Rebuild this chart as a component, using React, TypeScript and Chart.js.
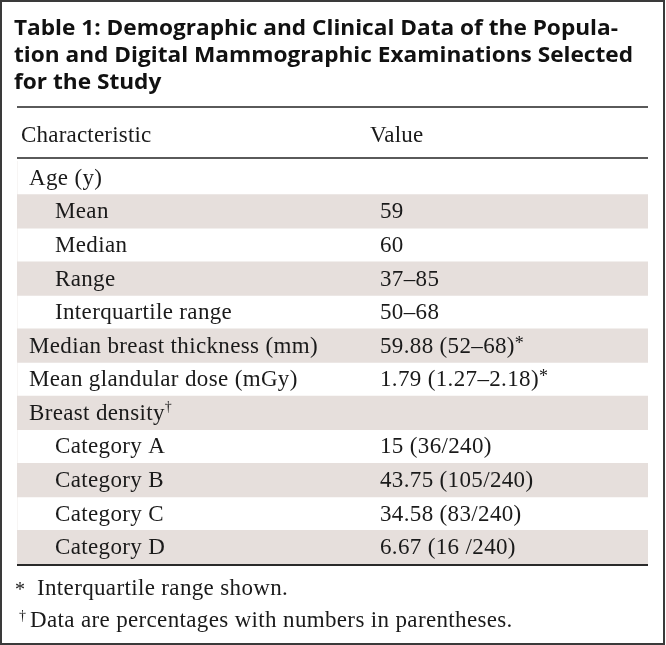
import React, { useEffect, useRef } from "react";
import { Chart, registerables } from "chart.js";

Chart.register(...registerables);

const titleLines = [
  "Table 1: Demographic and Clinical Data of the Popula-",
  "tion and Digital Mammographic Examinations Selected",
  "for the Study",
];
const headers = ["Characteristic", "Value"];
const characteristics = [
  "Age (y)",
  "Mean",
  "Median",
  "Range",
  "Interquartile range",
  "Median breast thickness (mm)",
  "Mean glandular dose (mGy)",
  "Breast density",
  "Category A",
  "Category B",
  "Category C",
  "Category D",
];
const labelMarks = ["", "", "", "", "", "", "", "†", "", "", "", ""];
const indentLevels = [0, 1, 1, 1, 1, 0, 0, 0, 1, 1, 1, 1];
const values = [
  "",
  "59",
  "60",
  "37–85",
  "50–68",
  "59.88 (52–68)",
  "1.79 (1.27–2.18)",
  "",
  "15 (36/240)",
  "43.75 (105/240)",
  "34.58 (83/240)",
  "6.67 (16 /240)",
];
const valueMarks = ["", "", "", "", "", "*", "*", "", "", "", "", ""];
const shaded = [0, 1, 0, 1, 0, 1, 0, 1, 0, 1, 0, 1];
const footnoteMarks = ["*", "†"];
const footnotes = ["Interquartile range shown.", "Data are percentages with numbers in parentheses."];

const W = 666;
const H = 645;
const SERIF = '"Liberation Serif", "DejaVu Serif", serif';
const SANS = '"Open Sans", Lato, sans-serif';
const BODY = `23px ${SERIF}`;

const tablePlugin = {
  id: "tableText",
  afterDraw(chart: any) {
    const ctx = chart.ctx as any;
    const area = chart.chartArea;
    const ys = chart.scales.y;
    const left = area.left;
    const right = area.right;
    ctx.save();

    // outer border
    ctx.strokeStyle = "#3a3a3a";
    ctx.lineWidth = 2;
    ctx.strokeRect(1, 1, W - 3, H - 2);

    // title
    ctx.fillStyle = "#111";
    ctx.font = `bold 22px ${SANS}`;
    ctx.textBaseline = "alphabetic";
    ctx.textAlign = "left";
    const refW = ctx.measureText(titleLines[1]).width;
    const sx = 619 / refW;
    titleLines.forEach((t, i) => {
      ctx.save();
      ctx.translate(14, 35 + i * 27);
      ctx.scale(sx, 1);
      ctx.fillText(t, 0, 0);
      ctx.restore();
    });

    // rules
    ctx.fillStyle = "#5a5a5a";
    ctx.fillRect(left, 106, right - left, 2);
    ctx.fillRect(left, 157, right - left, 2);
    ctx.fillStyle = "#2a2a2a";
    ctx.fillRect(left, area.bottom, right - left, 2);

    // header
    ctx.fillStyle = "#1a1a1a";
    ctx.font = BODY;
    ctx.letterSpacing = "0.2px";
    ctx.fillText(headers[0], 21, 142);
    ctx.fillText(headers[1], 370, 142);
    ctx.letterSpacing = "0.35px";

    // rows
    characteristics.forEach((c, i) => {
      const y = ys.getPixelForValue(i) + 7;
      const x = indentLevels[i] ? 55 : 29;
      ctx.font = BODY;
      ctx.fillText(c, x, y);
      let w = ctx.measureText(c).width;
      if (labelMarks[i]) {
        ctx.font = `14px ${SERIF}`;
        ctx.fillText(labelMarks[i], x + w, y - 9);
      }
      if (values[i]) {
        ctx.font = BODY;
        ctx.fillText(values[i], 380, y);
        w = ctx.measureText(values[i]).width;
        if (valueMarks[i]) {
          ctx.font = `18px ${SERIF}`;
          ctx.fillText(valueMarks[i], 380 + w, y - 4);
        }
      }
    });

    // footnotes
    ctx.font = `20px ${SERIF}`;
    ctx.fillText(footnoteMarks[0], 15, 596);
    ctx.font = `14px ${SERIF}`;
    ctx.fillText(footnoteMarks[1], 19, 620);
    ctx.font = BODY;
    ctx.fillText(footnotes[0], 37, 595);
    ctx.fillText(footnotes[1], 30, 627);

    ctx.restore();
  },
};

export default function App() {
  const ref = useRef<HTMLCanvasElement>(null);
  useEffect(() => {
    document.body.style.margin = "0";
    const canvas = ref.current!;
    const chart = new Chart(canvas, {
      type: "bar",
      data: {
        labels: characteristics,
        datasets: [
          {
            data: shaded,
            backgroundColor: "#e6dfdc",
            borderWidth: 0,
            barPercentage: 1,
            categoryPercentage: 1,
          },
        ],
      },
      options: {
        indexAxis: "y",
        responsive: false,
        animation: false,
        devicePixelRatio: 1,
        layout: { padding: { left: 17, right: 18, top: 161, bottom: 81 } },
        plugins: { legend: { display: false }, tooltip: { enabled: false } },
        scales: {
          x: { display: false, min: 0, max: 1 },
          y: { display: false },
        },
      },
      plugins: [tablePlugin],
    });
    return () => chart.destroy();
  }, []);
  return <canvas ref={ref} width={W} height={H} style={{ display: "block" }} />;
}
